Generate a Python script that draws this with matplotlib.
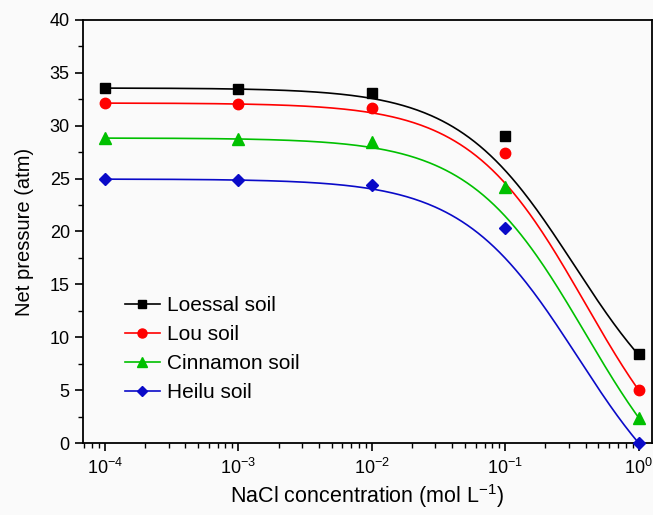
import matplotlib
matplotlib.use("Agg")
import matplotlib.pyplot as plt
import numpy as np

# measured points
conc = [1e-4, 1e-3, 1e-2, 1e-1, 1.0]
loessal = [33.57, 33.5, 33.07, 29.03, 8.4]
lou = [32.15, 32.06, 31.65, 27.42, 5.0]
cinnamon = [28.84, 28.75, 28.45, 24.2, 2.4]
heilu = [24.96, 24.87, 24.4, 20.3, 0.0]

labels = ['Loessal soil', 'Lou soil', 'Cinnamon soil', 'Heilu soil']
colors = ['#000000', '#ff0000', '#00c000', '#0a0ac8']
markers = ['s', 'o', '^', 'D']
msizes = [7, 7.5, 8, 6.5]
xtick_labels = ['10$^{-4}$', '10$^{-3}$', '10$^{-2}$', '10$^{-1}$', '10$^{0}$']

# fitted curve parameters  y = a2 + (a1 - a2) / (1 + x / x0)
fit_a1 = [33.57, 32.15, 28.84, 24.96]
fit_a2 = [0.0, -5.86, -8.18, -8.74]
fit_x0 = [0.33, 0.40, 0.40, 0.35]

plt.rcParams['font.family'] = ['Liberation Sans', 'DejaVu Sans']
plt.rcParams['mathtext.fontset'] = 'custom'
plt.rcParams['mathtext.rm'] = 'Liberation Sans'
plt.rcParams['mathtext.it'] = 'Liberation Sans'
plt.rcParams['mathtext.default'] = 'regular'

fig = plt.figure(figsize=(6.53, 5.15), dpi=100)
fig.patch.set_facecolor('#fafafa')
ax = fig.add_axes([83 / 653, 72 / 515, 569 / 653, 423 / 515])
ax.set_facecolor('#fafafa')

xs = np.logspace(-4, 0, 300)
series = [loessal, lou, cinnamon, heilu]
for i, ys in enumerate(series):
    a1, a2, x0 = fit_a1[i], fit_a2[i], fit_x0[i]
    curve = a2 + (a1 - a2) / (1 + xs / x0)
    ax.plot(xs, curve, color=colors[i], lw=1.2)
    ax.plot(conc, ys, linestyle='none', marker=markers[i], color=colors[i],
            markersize=msizes[i], clip_on=False, zorder=5)
    # legend proxy
    ax.plot([], [], color=colors[i], lw=1.2, marker=markers[i],
            markersize=msizes[i] - 1, label=labels[i])

ax.set_xscale('log')
ax.set_xlim(10 ** -4.165, 10 ** 0.1)
ax.set_ylim(0, 40)
ax.set_yticks(np.arange(0, 41, 5))
ax.set_yticks(np.arange(0, 40, 2.5), minor=True)
ax.set_xticks(conc)
ax.set_xticklabels(xtick_labels)

ax.tick_params(which='major', direction='out', length=6, width=1.2, labelsize=13)
ax.tick_params(axis='x', which='major', pad=5)
ax.tick_params(which='minor', direction='out', length=3.5, width=1.0)
ax.tick_params(top=False, right=False)
for s in ax.spines.values():
    s.set_linewidth(1.3)

ax.set_xlabel('NaCl concentration (mol L$^{-1}$)', fontsize=15.5, labelpad=3)
ax.set_ylabel('Net pressure (atm)', fontsize=14.5, labelpad=11)

ax.legend(loc='lower left', bbox_to_anchor=(0.04, 0.053), frameon=False,
          fontsize=15, handlelength=1.7, handletextpad=0.35, labelspacing=0.48)

fig.savefig('out.png', dpi=100, facecolor=fig.get_facecolor())
